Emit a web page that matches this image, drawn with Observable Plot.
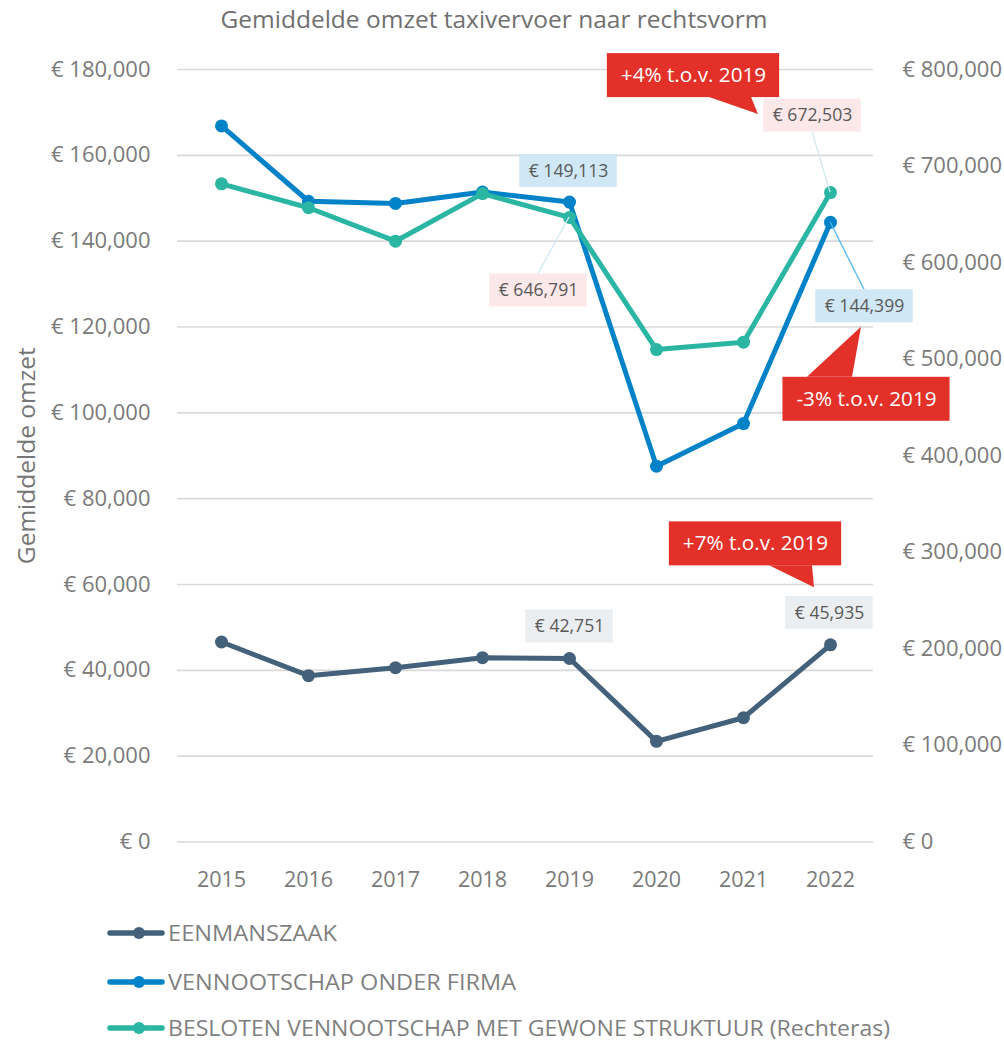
<!DOCTYPE html>
<html>
<head>
<meta charset="utf-8">
<script src="https://cdn.jsdelivr.net/npm/d3@7"></script>
<script src="https://cdn.jsdelivr.net/npm/@observablehq/plot@0.6"></script>
<style>
  html, body { margin: 0; padding: 0; background: #fff; overflow: hidden; }
  body { width: 1004px; height: 1041px; font-family: "Open Sans", sans-serif; }
  #title { height: 40px; box-sizing: border-box; padding-top: 7px; width: 988px; text-align: center;
           font-size: 24.5px; line-height: 24.5px; color: #707070; white-space: nowrap; }
  svg { display: block; }
</style>
</head>
<body>
<div id="title"></div>
<div id="chart"></div>
<div id="legend"></div>
<script>
// ---------- DATA ----------
const chartTitle = "Gemiddelde omzet taxivervoer naar rechtsvorm";
const yAxisTitle = "Gemiddelde omzet";
const years = [2015, 2016, 2017, 2018, 2019, 2020, 2021, 2022];
const eenmanszaak = [46600, 38750, 40600, 42950, 42751, 23450, 28950, 45935];
const vennootschapOnderFirma = [166850, 149300, 148800, 151450, 149113, 87550, 97500, 144399];
const beslotenVennootschap = [681600, 656800, 622200, 671500, 646791, 510000, 517600, 672503]; // right axis
const seriesNames = [
  "EENMANSZAAK",
  "VENNOOTSCHAP ONDER FIRMA",
  "BESLOTEN VENNOOTSCHAP MET GEWONE STRUKTUUR (Rechteras)"
];
const leftTicks = [0, 20000, 40000, 60000, 80000, 100000, 120000, 140000, 160000, 180000];
const rightTicks = [0, 100000, 200000, 300000, 400000, 500000, 600000, 700000, 800000];
const valueLabels = [
  {series: 1, year: 2019, text: "€ 149,113"},
  {series: 2, year: 2019, text: "€ 646,791"},
  {series: 2, year: 2022, text: "€ 672,503"},
  {series: 1, year: 2022, text: "€ 144,399"},
  {series: 0, year: 2019, text: "€ 42,751"},
  {series: 0, year: 2022, text: "€ 45,935"}
];
const callouts = [
  {series: 2, year: 2022, text: "+4% t.o.v. 2019"},
  {series: 1, year: 2022, text: "-3% t.o.v. 2019"},
  {series: 0, year: 2022, text: "+7% t.o.v. 2019"}
];

// ---------- STYLE / LAYOUT ----------
const seriesValues = [eenmanszaak, vennootschapOnderFirma, beslotenVennootschap];
const onRightAxis = [false, false, true];
const colors = ["#44617b", "#0082c9", "#2bb5a3"];
const ratio = 180000 / 800000; // right axis -> left axis units
const textGray = "#7a7a7a";
const labelLayout = [
  {dx: -1, dy: -31, fill: "#d0e7f5", leader: null},
  {dx: -31, dy: 73, fill: "#fce8e9", leader: "#cfe8f2"},
  {dx: -18, dy: -77, fill: "#fce8e9", leader: "#cfe8f2"},
  {dx: 34, dy: 84, fill: "#d0e7f5", leader: "#4fb9ef"},
  {dx: 0, dy: -32, fill: "#ebeef1", leader: null},
  {dx: -1, dy: -32, fill: "#ebeef1", leader: null}
];
const calloutLayout = [
  {dx: -137, dy: -117, tail: [[16, 22], [58, 22], [65, 39]]},
  {dx: 36, dy: 177, tail: [[-59, -22], [-14, -22], [-5, -72]]},
  {dx: -75, dy: -101, tail: [[14, 22], [57, 22], [59, 44]]}
];
const legendTextLength = [169, 348, 722];

document.getElementById("title").textContent = chartTitle;

const fmt = d => "€ " + d3.format(",")(d);
const table = seriesNames.flatMap((name, i) =>
  years.map((year, j) => ({
    series: name, idx: i, year,
    value: seriesValues[i][j],
    yv: onRightAxis[i] ? seriesValues[i][j] * ratio : seriesValues[i][j]
  }))
);
const yOf = (s, year) => table.find(d => d.idx === s && d.year === year).yv;

const marks = [
  Plot.gridY(leftTicks, {stroke: "#d9d9d9", strokeOpacity: 1, strokeWidth: 1.6}),
  Plot.axisY(leftTicks, {anchor: "left", tickSize: 0, tickPadding: 27, tickFormat: fmt,
    fontSize: 22, color: textGray, label: null}),
  Plot.axisY(rightTicks.map(v => v * ratio), {anchor: "right", tickSize: 0, tickPadding: 29,
    tickFormat: d => fmt(Math.round(d / ratio)), fontSize: 22, color: textGray, label: null}),
  Plot.axisX(years, {anchor: "bottom", tickSize: 0, tickPadding: 30, fontSize: 21.5,
    color: textGray, tickFormat: d => String(d), label: null}),
  Plot.text([yAxisTitle], {frameAnchor: "left", textAnchor: "middle", dx: -150, rotate: -90,
    fontSize: 24.5, fill: "#767676"})
];
seriesNames.forEach((name, i) => {
  const rows = table.filter(d => d.idx === i);
  marks.push(Plot.line(rows, {x: "year", y: "yv", stroke: colors[i], strokeWidth: 5}));
  marks.push(Plot.dot(rows, {x: "year", y: "yv", r: 6.5, fill: colors[i]}));
});
valueLabels.forEach((l, i) => {
  marks.push(Plot.text([l], {x: "year", y: d => yOf(d.series, d.year), text: "text",
    dx: labelLayout[i].dx, dy: labelLayout[i].dy, fontSize: 17.6, fill: "#595959"}));
});
callouts.forEach((c, i) => {
  marks.push(Plot.text([c], {x: "year", y: d => yOf(d.series, d.year), text: "text",
    dx: calloutLayout[i].dx, dy: calloutLayout[i].dy, fontSize: 20.7, fill: "#ffffff"}));
});

const plot = Plot.plot({
  width: 1004,
  height: 870,
  marginTop: 29,
  marginBottom: 68.5,
  marginLeft: 177,
  marginRight: 131,
  style: {fontFamily: "Open Sans", background: "white"},
  x: {type: "point", domain: years, padding: 0.5, axis: null},
  y: {domain: [0, 180000], axis: null},
  marks
});
document.getElementById("chart").append(plot);

// ---------- annotation boxes, leaders and tails ----------
const xs = plot.scale("x"), ys = plot.scale("y");
const NS = "http://www.w3.org/2000/svg";
const groups = plot.querySelectorAll('g[aria-label="text"]');
function el(tag, attrs) {
  const e = document.createElementNS(NS, tag);
  for (const k in attrs) e.setAttribute(k, attrs[k]);
  return e;
}
valueLabels.forEach((l, i) => {
  const g = groups[1 + i];
  const bb = g.querySelector("text").getBBox();
  const px = xs.apply(l.year), py = ys.apply(yOf(l.series, l.year));
  const cx = px + labelLayout[i].dx, cy = py + labelLayout[i].dy;
  const w = bb.width + 18, h = 33;
  if (labelLayout[i].leader) {
    const ey = py < cy ? cy - h / 2 : cy + h / 2;
    g.parentNode.insertBefore(el("line", {x1: px, y1: py, x2: cx, y2: ey,
      stroke: labelLayout[i].leader, "stroke-width": 1.3}), g);
  }
  g.parentNode.insertBefore(el("rect", {x: cx - w / 2, y: cy - h / 2, width: w, height: h,
    fill: labelLayout[i].fill}), g);
});
callouts.forEach((c, i) => {
  const g = groups[1 + valueLabels.length + i];
  const bb = g.querySelector("text").getBBox();
  const px = xs.apply(c.year), py = ys.apply(yOf(c.series, c.year));
  const cx = px + calloutLayout[i].dx, cy = py + calloutLayout[i].dy;
  const w = bb.width + 27, h = 44;
  g.parentNode.insertBefore(el("rect", {x: cx - w / 2, y: cy - h / 2, width: w, height: h,
    fill: "#e3312a"}), g);
  const pts = calloutLayout[i].tail.map(([a, b]) => `${cx + a},${cy + b}`).join(" ");
  g.parentNode.insertBefore(el("polygon", {points: pts, fill: "#e3312a"}), g);
});

// ---------- legend ----------
const legendItemY = [23, 72, 118];
const leg = d3.select("#legend").append("svg").attr("width", 1004).attr("height", 131);
seriesNames.forEach((name, i) => {
  const g = leg.append("g").attr("transform", `translate(0,${legendItemY[i]})`);
  g.append("line").attr("x1", 110).attr("x2", 162).attr("y1", 0).attr("y2", 0)
    .attr("stroke", colors[i]).attr("stroke-width", 5.5).attr("stroke-linecap", "round");
  g.append("circle").attr("cx", 139).attr("cy", 0).attr("r", 6).attr("fill", colors[i]);
  g.append("text").attr("x", 168).attr("y", 7.5).attr("font-size", 22)
    .attr("font-family", "Open Sans").attr("fill", "#7f7f7f")
    .attr("textLength", legendTextLength[i]).attr("lengthAdjust", "spacingAndGlyphs")
    .text(name);
});
</script>
</body>
</html>
